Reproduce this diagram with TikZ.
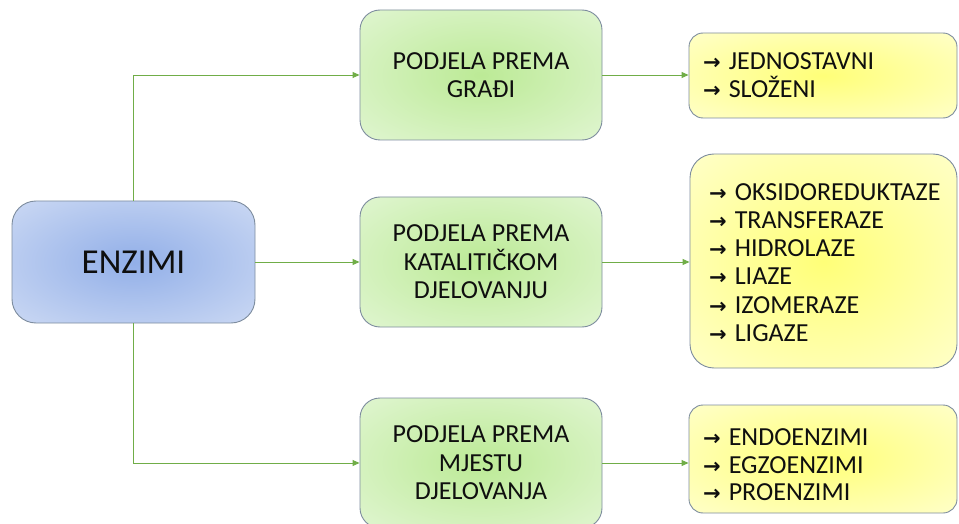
\documentclass[tikz,border=0pt]{standalone}
\usepackage{fontspec}
\setmainfont{Carlito}
\newfontfamily\arrowfont{DejaVu Sans}
\usetikzlibrary{arrows.meta}
\definecolor{conn}{RGB}{112,173,71}
\definecolor{edgec}{RGB}{125,140,158}
\definecolor{gIn}{RGB}{188,234,150}
\definecolor{gOut}{RGB}{232,248,222}
\definecolor{bIn}{RGB}{146,175,232}
\definecolor{bOut}{RGB}{216,226,246}
\definecolor{yIn}{RGB}{255,255,120}
\definecolor{yOut}{RGB}{255,255,224}
\definecolor{txt}{RGB}{15,15,15}
\pgfdeclareradialshading{blueglow}{\pgfpoint{0bp}{0bp}}{color(0bp)=(bIn); color(44bp)=(bOut); color(50bp)=(bOut)}
\pgfdeclareradialshading{greenglow}{\pgfpoint{0bp}{0bp}}{color(0bp)=(gIn); color(44bp)=(gOut); color(50bp)=(gOut)}
\pgfdeclareradialshading{yellowglow}{\pgfpoint{0bp}{0bp}}{color(0bp)=(yIn); color(46bp)=(yOut); color(50bp)=(yOut)}
\newcommand\arrmark{{\arrowfont\bfseries\fontsize{21}{21}\selectfont →}\hspace{8pt}}
\begin{document}
\begin{tikzpicture}[x=1pt,y=-1pt,
  enzbox/.style={draw=edgec, line width=0.9pt, rounded corners=24pt, shading=blueglow,
    minimum width=243pt, minimum height=122pt, inner sep=0pt, text=txt,
    font=\fontsize{35}{40}\selectfont},
  greenbox/.style={draw=edgec, line width=0.9pt, rounded corners=20pt, shading=greenglow,
    minimum width=242pt, minimum height=130pt, inner sep=0pt, align=center, text=txt,
    font=\fontsize{26}{28.5}\selectfont},
  yellowbox/.style={draw=edgec, line width=0.9pt, rounded corners=#1, shading=yellowglow,
    minimum width=268pt, inner sep=0pt},
  yellowbox/.default=14pt,
  ytext/.style={anchor=west, align=left, inner sep=0pt, text=txt, font=\fontsize{26}{27.5}\selectfont},
  connline/.style={draw=conn, line width=0.9pt},
  connarrow/.style={connline, -{Triangle[length=7pt,width=6pt]}}
]
\useasboundingbox (0,0) rectangle (959,524);

% main node
\node[enzbox] (enz) at (133.5,262) {ENZIMI};

% green boxes
\node[greenbox] (g1) at (481,75) {PODJELA PREMA\\GRAĐI};
\node[greenbox] (g2) at (481,262) {PODJELA PREMA\\KATALITIČKOM\\DJELOVANJU};
\node[greenbox] (g3) at (481,463) {PODJELA PREMA\\MJESTU\\DJELOVANJA};

% yellow boxes
\node[yellowbox, minimum height=85pt] (y1) at (823,75.5) {};
\node[yellowbox=24pt, minimum width=267pt, minimum height=214pt] (y2) at (823.5,261) {};
\node[yellowbox, minimum height=108pt] (y3) at (823,459) {};

% yellow box texts
\node[ytext] (t1) at (703,75) {\arrmark JEDNOSTAVNI\\\arrmark SLOŽENI};
\node[ytext, font=\fontsize{26}{28.2}\selectfont] (t2) at (709,262.5) {\arrmark OKSIDOREDUKTAZE\\\arrmark TRANSFERAZE\\\arrmark HIDROLAZE\\\arrmark LIAZE\\\arrmark IZOMERAZE\\\arrmark LIGAZE};
\node[ytext] (t3) at (703,465) {\arrmark ENDOENZIMI\\\arrmark EGZOENZIMI\\\arrmark PROENZIMI};

% connectors
\draw[connarrow] (enz.north) |- (g1.west);
\draw[connarrow] (enz.east) -- (g2.west);
\draw[connarrow] (enz.south) |- (g3.west);
\draw[connarrow] (g1.east) -- (g1.east -| y1.west);
\draw[connarrow] (g2.east) -- (g2.east -| y2.west);
\draw[connarrow] (g3.east) -- (g3.east -| y3.west);
\end{tikzpicture}
\end{document}
